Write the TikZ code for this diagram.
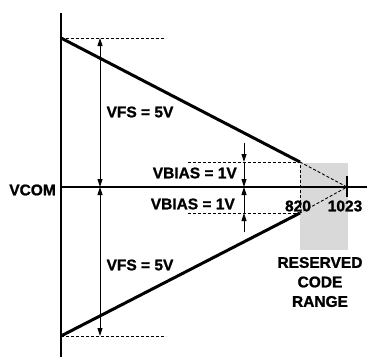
\documentclass[tikz,border=0pt]{standalone}
\usepackage{fontspec}
\newfontfamily\lblfont{Liberation Sans Bold}[FakeBold=1.2]
\usetikzlibrary{arrows.meta}

\tikzset{
  axisline/.style={line width=1.8pt},
  transfer/.style={line width=3pt},
  guide/.style={line width=0.9pt,dash pattern=on 3pt off 2pt},
  span/.style={line width=0.9pt,-{Triangle[length=8pt,width=5pt]}},
  twospan/.style={line width=0.9pt,{Triangle[length=8pt,width=5pt]}-{Triangle[length=8pt,width=5pt]}},
  lbl/.style={font=\lblfont\fontsize{15.5}{19.5}\selectfont,inner sep=0pt}
}

\begin{document}
\begin{tikzpicture}[x=10pt,y=-10pt]
\useasboundingbox (0,0) rectangle (36.8,36.0);

\fill[black!15] (30.0,16.3) rectangle (34.8,25.0);

\draw[axisline] (6.1,1.3) to (6.1,35.7);
\draw[axisline] (6.1,18.7) to (36.7,18.7);
\draw[axisline] (34.7,17.6) to (34.7,19.7);

\draw[guide] (6.1,3.8) to (16.6,3.8);
\draw[guide] (6.1,33.6) to (16.6,33.6);
\draw[guide] (18.8,16.2) to (30.0,16.2) to (30.0,21.3);
\draw[guide] (18.8,21.3) to (30.0,21.3);
\draw[guide] (30.0,16.2) to (34.7,18.7) to (30.0,21.3);

\draw[transfer] (6.1,3.8) to (30.0,16.2);
\draw[transfer] (6.1,33.6) to (30.0,21.3);

\draw[twospan] (10.0,3.8) to (10.0,18.7);
\draw[twospan] (10.0,18.7) to (10.0,33.6);
\draw[span] (24.4,14.3) to (24.4,16.2);
\draw[span] (24.4,16.2) to (24.4,18.7);
\draw[span] (24.4,23.2) to (24.4,21.3);
\draw[span] (24.4,21.3) to (24.4,18.7);

\node[lbl,anchor=east] (vcom) at (5.6,19.0) {VCOM};
\node[lbl] (vfstop) at (14.0,11.2) {VFS = 5V};
\node[lbl] (vfsbot) at (14.0,26.5) {VFS = 5V};
\node[lbl,anchor=east] (biastop) at (23.7,17.3) {VBIAS = 1V};
\node[lbl,anchor=east] (biasbot) at (23.5,20.4) {VBIAS = 1V};
\node[lbl] (low) at (29.8,20.6) {820};
\node[lbl] (high) at (34.5,20.6) {1023};
\node[lbl,align=center] (reserved) at (32.0,28.2) {RESERVED\\CODE\\RANGE};

\end{tikzpicture}
\end{document}
